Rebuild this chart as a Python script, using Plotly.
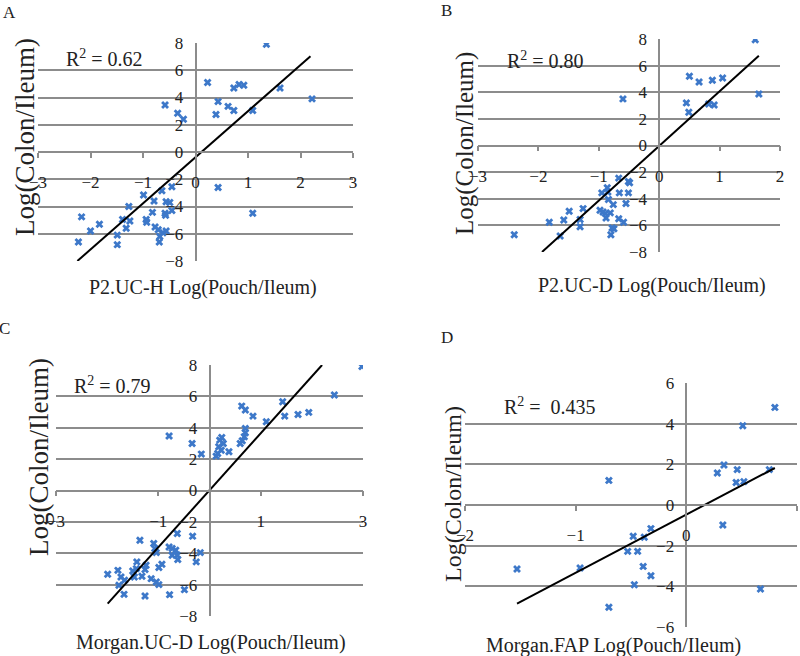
import plotly.graph_objects as go

# ---------------- data ----------------
a_x = [1.35, 0.23, 0.73, 0.83, 0.92, 1.61, 0.43, 0.62, 0.73, 1.09, 0.39, 2.22, -0.58, -0.34, -0.23,
       0.43, 1.09, -0.45, -0.64, -0.99, -0.79, -0.56, -0.49, -0.45, -1.27, -0.82, -0.58, -0.57, -2.17,
       -1.39, -1.25, -0.94, -0.93, -1.83, -1.32, -0.77, -0.71, -0.62, -0.56, -0.68, -2.0, -1.49, -0.69,
       -2.23, -1.49]
a_y = [7.9, 5.1, 4.7, 4.95, 4.9, 4.7, 3.7, 3.35, 3.05, 3.05, 2.75, 3.9, 3.45, 2.85, 2.4,
       -2.6, -4.5, -2.55, -2.85, -3.16, -3.6, -3.65, -3.7, -4.3, -4.0, -4.43, -4.5, -4.65, -4.76,
       -4.95, -5.07, -4.95, -5.15, -5.3, -5.6, -5.5, -5.7, -5.93, -5.8, -6.2, -5.8, -6.1, -6.6,
       -6.6, -6.8]
a_trend_x = [-2.25, 2.19]
a_trend_y = [-8.0, 7.03]

b_x = [1.59, 1.65, 0.50, 0.66, 0.88, 1.05, 0.45, 0.49, 0.82, 0.91, -0.60,
       -0.67, -0.51, -0.49, -0.86, -0.95, -0.85, -0.66, -0.51, -0.84, -0.76, -0.55, -1.26, -1.49,
       -0.98, -0.93, -0.89, -0.81, -0.88, -0.67, -1.31, -1.82, -1.58, -1.31, -0.59, -0.75, -0.78,
       -0.80, -1.64, -2.40]
b_y = [7.95, 3.87, 5.2, 4.77, 4.9, 5.07, 3.2, 2.5, 3.12, 3.04, 3.5,
       -2.45, -2.7, -2.8, -3.18, -3.56, -3.5, -3.56, -3.56, -4.06, -4.44, -4.36, -4.74, -4.94,
       -4.86, -5.0, -5.1, -5.06, -5.44, -5.5, -5.56, -5.76, -5.6, -6.1, -5.77, -6.26, -6.19,
       -6.7, -6.8, -6.7]
b_trend_x = [-1.94, 1.65]
b_trend_y = [-8.0, 6.75]

c_x = [2.98, 2.44, 1.43, 1.47, 1.73, 1.94, 1.11, 0.63, 0.70, 0.85, 0.70, 0.70, 0.68, 0.64, 0.60,
       0.24, 0.20, 0.27, 0.18, 0.23, 0.38, 0.16, 0.13, -0.79, -0.34, -0.16,
       -0.33, -0.63, -1.36, -1.09, -1.07, -1.04, -0.79, -0.73, -0.66, -0.63, -0.62, -0.73, -0.18,
       -0.26, -1.42, -1.24, -1.43, -1.26, -0.93, -0.99, -1.50, -1.79, -1.99, -1.73, -1.47, -1.32,
       -1.14, -1.04, -0.99, -1.77, -1.67, -1.26, -0.78, -0.49, -1.66]
c_y = [7.9, 6.09, 5.66, 4.74, 4.85, 4.98, 4.38, 5.38, 5.13, 4.74, 3.96, 3.68, 3.43, 3.17, 3.0,
       3.38, 3.21, 3.0, 2.79, 2.57, 2.47, 2.36, 2.19, 3.47, 3.0, 2.32,
       -2.91, -2.74, -3.17, -3.38, -3.7, -3.96, -3.6, -3.7, -3.81, -4.13, -4.4, -4.13, -3.96,
       -4.55, -4.55, -4.77, -4.98, -5.04, -4.7, -4.91, -5.13, -5.09, -5.34, -5.51, -5.51, -5.47,
       -5.62, -5.83, -6.0, -6.04, -6.62, -6.72, -6.64, -6.32, -5.72]
c_trend_x = [-1.99, 2.20]
c_trend_y = [-7.21, 8.0]

d_x = [0.80, 0.51, 0.34, 0.28, 0.46, 0.45, 0.52, 0.75, 0.33, 0.67, -0.70, -0.32, -0.38, -0.48,
       -0.53, -0.44, -0.39, -0.32, -0.47, -0.70, -0.96, -1.53]
d_y = [4.80, 3.90, 1.97, 1.57, 1.74, 1.11, 1.15, 1.74, -0.98, -4.13, 1.21, -1.16, -1.59, -1.54,
       -2.28, -2.28, -3.02, -3.48, -3.92, -5.03, -3.10, -3.15]
d_trend_x = [-1.53, 0.80]
d_trend_y = [-4.85, 1.82]

panel_letters = ["A", "B", "C", "D"]
x_titles = ["P2.UC-H Log(Pouch/Ileum)", "P2.UC-D Log(Pouch/Ileum)",
            "Morgan.UC-D Log(Pouch/Ileum)", "Morgan.FAP Log(Pouch/Ileum)"]
y_title = "Log(Colon/Ileum)"
r2_texts = ["R<sup>2</sup> = 0.62", "R<sup>2</sup> = 0.80", "R<sup>2</sup> = 0.79",
            "R<sup>2</sup> =\u00a0 0.435"]
x_ranges = [[-3, 3], [-3, 2], [-3, 3], [-2, 1]]
y_ranges = [[-8, 8], [-8, 8], [-8, 8], [-6, 6]]
x_tickvals = [[-3, -2, -1, 0, 1, 2, 3], [-3, -2, -1, 0, 1, 2], [-3, -1, 1, 3], [-2, -1, 0, 1]]
y_tickvals = [[-8, -6, -4, -2, 0, 2, 4, 6, 8]] * 3 + [[-6, -4, -2, 0, 2, 4, 6]]

# ---------------- layout (pixel geometry) ----------------
W, H = 800, 656
FONT = "Liberation Serif, Times New Roman, serif"
MARK = "#3d78c9"
GRID = "#8c8c8c"
TXT = "#222"

# plot-area boxes in pixels: (left, right, top, bottom)
boxes = [(38, 353, 43, 261), (478, 780, 39, 252), (56, 363, 365, 616), (465, 797, 383, 627)]
letter_px = [(9, 13), (446, 10), (4, 329), (447, 337)]
r2_px = [(104, 58), (545, 60), (113, 385), (550, 406)]
xt_px = [(203, 288), (652, 285), (211, 642), (613, 645)]
yt_px = [(25, 137), (465, 144), (39, 457), (453, 494)]
yt_size = [27, 25, 27, 24]

def px(x):
    return x / W

def py(y):
    return 1 - y / H

series = [(a_x, a_y, a_trend_x, a_trend_y), (b_x, b_y, b_trend_x, b_trend_y),
          (c_x, c_y, c_trend_x, c_trend_y), (d_x, d_y, d_trend_x, d_trend_y)]

fig = go.Figure()
layout = dict(width=W, height=H, margin=dict(l=0, r=0, t=0, b=0, pad=0, autoexpand=False),
              paper_bgcolor="white", plot_bgcolor="white", showlegend=False,
              font=dict(family=FONT, color=TXT))
annotations = []

for i, (sx, sy, tx, ty) in enumerate(series):
    n = "" if i == 0 else str(i + 1)
    xa, ya = "x" + n, "y" + n
    fig.add_trace(go.Scatter(x=sx, y=sy, mode="markers", xaxis=xa, yaxis=ya,
                             marker=dict(symbol="x", size=7, color=MARK, line=dict(width=0))))
    fig.add_trace(go.Scatter(x=tx, y=ty, mode="lines", xaxis=xa, yaxis=ya,
                             line=dict(color="black", width=2)))
    l, r, t, b = boxes[i]
    xd = [px(l), px(r)]
    yd = [py(b), py(t)]
    xr, yr = x_ranges[i], y_ranges[i]
    # axes cross at data zero
    xpos = yd[0] + (0 - yr[0]) / (yr[1] - yr[0]) * (yd[1] - yd[0])
    ypos = xd[0] + (0 - xr[0]) / (xr[1] - xr[0]) * (xd[1] - xd[0])
    layout["xaxis" + n] = dict(domain=xd, range=xr, anchor="free", position=xpos,
                               automargin=False,
                               tickmode="array", tickvals=x_tickvals[i],
                               showgrid=False, zeroline=False, showline=True,
                               linecolor=GRID, linewidth=1.5, ticks="outside", ticklen=5,
                               tickcolor=GRID, tickwidth=1.5, ticklabelstandoff=10,
                               tickfont=dict(size=17, family=FONT, color=TXT),
                               fixedrange=True)
    layout["yaxis" + n] = dict(domain=yd, range=yr, anchor="free", position=ypos,
                               automargin=False,
                               tickmode="array", tickvals=y_tickvals[i],
                               showgrid=True, gridcolor=GRID, gridwidth=1.5,
                               zeroline=False, showline=True, linecolor=GRID, linewidth=1.5,
                               ticks="", ticklabelstandoff=8,
                               tickfont=dict(size=17, family=FONT, color=TXT),
                               fixedrange=True)
    common = dict(xref="paper", yref="paper", showarrow=False, xanchor="center", yanchor="middle")
    annotations.append(dict(text=panel_letters[i], x=px(letter_px[i][0]), y=py(letter_px[i][1]),
                            font=dict(size=17, family=FONT, color=TXT), **common))
    annotations.append(dict(text=r2_texts[i], x=px(r2_px[i][0]), y=py(r2_px[i][1]),
                            font=dict(size=20, family=FONT, color=TXT), **common))
    annotations.append(dict(text=x_titles[i], x=px(xt_px[i][0]), y=py(xt_px[i][1]),
                            font=dict(size=20, family=FONT, color=TXT), **common))
    annotations.append(dict(text=y_title, x=px(yt_px[i][0]), y=py(yt_px[i][1]), textangle=-90,
                            font=dict(size=yt_size[i], family=FONT, color=TXT), **common))

layout["annotations"] = annotations
fig.update_layout(**layout)
fig.write_html("out.html", config={"displayModeBar": False},
               post_script="document.body.style.margin='0';document.body.style.overflow='hidden';")
